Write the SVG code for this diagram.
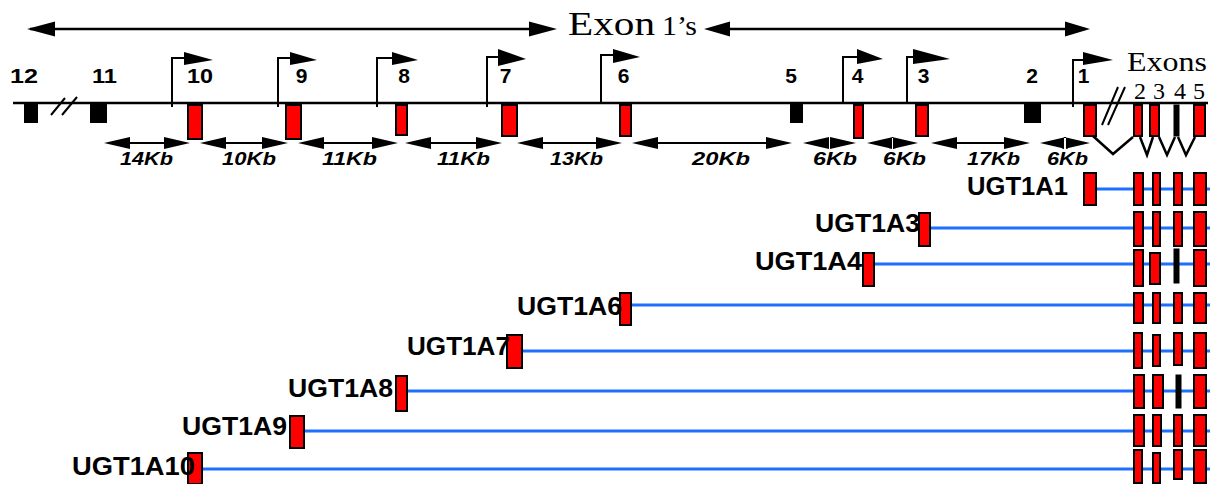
<svg xmlns="http://www.w3.org/2000/svg" width="1215" height="484" viewBox="0 0 1215 484">
  <style>
    .bg { fill: #ffffff; }
    .ln { stroke: #000; stroke-width: 2.5; fill: none; }
    .thin { stroke: #000; stroke-width: 2; fill: none; }
    .head { fill: #000; stroke: none; }
    .ex { fill: #ff0000; stroke: #000; stroke-width: 2; }
    .exk { fill: #000; stroke: #000; stroke-width: 1; }
    .blk { fill: #000; }
    .intr { stroke: #1f6fff; stroke-width: 3; fill: none; }
    .num { font-family: "Liberation Sans", Arial, sans-serif; font-weight: bold; font-size: 21px; fill: #000; }
    .kb { font-family: "Liberation Sans", Arial, sans-serif; font-weight: bold; font-style: italic; font-size: 18px; fill: #000; }
    .tx { font-family: "Liberation Sans", Arial, sans-serif; font-weight: bold; font-size: 25px; fill: #000; }
    .ser { font-family: "Liberation Serif", "Times New Roman", serif; fill: #000; }
  </style>

  <rect class="bg" x="0" y="0" width="1215" height="484"/>

  <!-- span of the first exons -->
  <g id="exon1-span">
    <line class="ln" x1="30" y1="29" x2="550" y2="29"/>
    <path class="head" d="M27,29 L55,21.5 L55,36.5 Z M557,29 L529,21.5 L529,36.5 Z"/>
    <line class="ln" x1="710" y1="29" x2="1085" y2="29"/>
    <path class="head" d="M704,29 L730,21.5 L730,36.5 Z M1090,29 L1065,21.5 L1065,36.5 Z"/>
    <text class="ser" x="568" y="35" font-size="33" textLength="87" lengthAdjust="spacingAndGlyphs">Exon</text>
    <text class="ser" x="662" y="35" font-size="28" textLength="35" lengthAdjust="spacingAndGlyphs">1’s</text>
  </g>

  <!-- genomic locus -->
  <g id="locus">
    <line class="ln" x1="13" y1="103" x2="1208" y2="103"/>
    <!-- break marks -->
    <path class="thin" stroke-width="3" d="M51,115 L65,98 M62,115 L77,97"/>
    <path class="thin" stroke-width="2.5" d="M1102,125 L1118,87 M1108,125 L1125,87"/>
  </g>

  <!-- first exons with their promoters -->
  <g id="exon1-12"><rect class="blk" x="24" y="103" width="14" height="20"/><text class="num" x="24" y="83" text-anchor="middle" textLength="28" lengthAdjust="spacingAndGlyphs">12</text></g>
  <g id="exon1-11"><rect class="blk" x="90" y="103" width="17" height="20"/><text class="num" x="104.5" y="83" text-anchor="middle" textLength="25" lengthAdjust="spacingAndGlyphs">11</text></g>

  <g id="exon1-10">
    <path class="thin" d="M172,107 V58 H185"/>
    <path class="head" d="M184,52 L213,60 L184,65 Z"/>
    <rect class="ex" x="188" y="105" width="14" height="34"/>
    <text class="num" x="200" y="83" text-anchor="middle" textLength="26" lengthAdjust="spacingAndGlyphs">10</text>
  </g>
  <g id="exon1-9">
    <path class="thin" d="M278,107 V58 H291"/>
    <path class="head" d="M290,52 L317,60 L290,65 Z"/>
    <rect class="ex" x="286" y="105" width="15" height="34"/>
    <text class="num" x="301.5" y="83" text-anchor="middle">9</text>
  </g>
  <g id="exon1-8">
    <path class="thin" d="M377,107 V58 H393"/>
    <path class="head" d="M392,52 L418,60 L392,65 Z"/>
    <rect class="ex" x="396" y="105" width="11" height="30"/>
    <text class="num" x="404" y="83" text-anchor="middle">8</text>
  </g>
  <g id="exon1-7">
    <path class="thin" d="M487,107 V57 H499"/>
    <path class="head" d="M498,49 L526,59 L498,66 Z"/>
    <rect class="ex" x="502" y="105" width="15" height="31"/>
    <text class="num" x="505.5" y="83" text-anchor="middle">7</text>
  </g>
  <g id="exon1-6">
    <path class="thin" d="M601,104 V55 H614"/>
    <path class="head" d="M613,49 L640,57 L613,63 Z"/>
    <rect class="ex" x="620" y="105" width="11" height="31"/>
    <text class="num" x="623.5" y="83" text-anchor="middle">6</text>
  </g>
  <g id="exon1-5"><rect class="blk" x="790" y="103" width="13" height="20"/><text class="num" x="791" y="83" text-anchor="middle">5</text></g>
  <g id="exon1-4">
    <path class="thin" d="M843,104 V57 H858"/>
    <path class="head" d="M857,49 L883,59 L857,64 Z"/>
    <rect class="ex" x="854" y="105" width="9" height="33"/>
    <text class="num" x="857.5" y="83" text-anchor="middle">4</text>
  </g>
  <g id="exon1-3">
    <path class="thin" d="M907,104 V57 H914"/>
    <path class="head" d="M913,49 L950,59 L913,64 Z"/>
    <rect class="ex" x="916" y="105" width="12" height="31"/>
    <text class="num" x="923.5" y="83" text-anchor="middle">3</text>
  </g>
  <g id="exon1-2"><rect class="blk" x="1024" y="103" width="17" height="20"/><text class="num" x="1032" y="83" text-anchor="middle">2</text></g>
  <g id="exon1-1">
    <path class="thin" d="M1073,107 V60 H1084"/>
    <path class="head" d="M1083,52 L1113,60 L1083,65 Z"/>
    <rect class="ex" x="1084" y="105" width="12" height="31"/>
    <text class="num" x="1083.5" y="83" text-anchor="middle">1</text>
  </g>

  <!-- shared exons 2-5 -->
  <g id="common-exons">
    <text class="ser" x="1127" y="71" font-size="28" textLength="80" lengthAdjust="spacingAndGlyphs">Exons</text>
    <text class="ser" x="1140" y="98.5" font-size="24" text-anchor="middle">2</text>
    <text class="ser" x="1159" y="98.5" font-size="24" text-anchor="middle">3</text>
    <text class="ser" x="1180" y="98.5" font-size="24" text-anchor="middle">4</text>
    <text class="ser" x="1199" y="98.5" font-size="24" text-anchor="middle">5</text>
    <rect class="ex" x="1134" y="105" width="8" height="31"/>
    <rect class="ex" x="1150" y="105" width="9" height="31"/>
    <rect class="exk" x="1174" y="105" width="5" height="31"/>
    <rect class="ex" x="1194" y="105" width="11" height="31"/>
  </g>

  <!-- connectors: splicing, distances -->
  <g id="connectors">
    <path class="ln" stroke-width="3" d="M1093,136 L1113,154 L1133,137 M1140,137 L1147,155 L1153,137 M1159,137 L1167,155 L1175,137 M1178,137 L1186,155 L1195,137"/>

    <g id="distances">
      <path class="thin" d="M115,143 H180 M210,143 H278 M308,143 H388 M415,143 H492 M527,143 H612 M642,143 H782 M941,143 H1020"/>
      <path class="head" d="
        M104,143 L130,137 L130,149 Z M190,143 L164,137 L164,149 Z
        M200,143 L226,137 L226,149 Z M288,143 L262,137 L262,149 Z
        M298,143 L324,137 L324,149 Z M398,143 L372,137 L372,149 Z
        M405,143 L431,137 L431,149 Z M502,143 L476,137 L476,149 Z
        M517,143 L543,137 L543,149 Z M622,143 L596,137 L596,149 Z
        M632,143 L658,137 L658,149 Z M792,143 L766,137 L766,149 Z
        M803,143 L829,137 L829,149 Z M856,143 L830,137 L830,149 Z
        M867,143 L893,137 L893,149 Z M918,143 L892,137 L892,149 Z
        M931,143 L957,137 L957,149 Z M1030,143 L1004,137 L1004,149 Z
        M1040,143 L1066,137 L1066,149 Z M1090,143 L1064,137 L1064,149 Z"/>
      <text class="kb" x="120" y="165" textLength="53" lengthAdjust="spacingAndGlyphs">14Kb</text>
      <text class="kb" x="222" y="165" textLength="54" lengthAdjust="spacingAndGlyphs">10Kb</text>
      <text class="kb" x="322" y="165" textLength="55" lengthAdjust="spacingAndGlyphs">11Kb</text>
      <text class="kb" x="437" y="165" textLength="53" lengthAdjust="spacingAndGlyphs">11Kb</text>
      <text class="kb" x="550" y="165" textLength="53" lengthAdjust="spacingAndGlyphs">13Kb</text>
      <text class="kb" x="692" y="165" textLength="58" lengthAdjust="spacingAndGlyphs">20Kb</text>
      <text class="kb" x="813" y="165" textLength="44" lengthAdjust="spacingAndGlyphs">6Kb</text>
      <text class="kb" x="883" y="165" textLength="43" lengthAdjust="spacingAndGlyphs">6Kb</text>
      <text class="kb" x="967" y="165" textLength="53" lengthAdjust="spacingAndGlyphs">17Kb</text>
      <text class="kb" x="1047" y="165" textLength="41" lengthAdjust="spacingAndGlyphs">6Kb</text>
    </g>

    <!-- spliced introns of each transcript -->
    <g id="introns">
      <line class="intr" x1="1096" y1="189" x2="1210" y2="189"/>
      <line class="intr" x1="930" y1="228" x2="1210" y2="228"/>
      <line class="intr" x1="874" y1="264" x2="1210" y2="264"/>
      <line class="intr" x1="632" y1="305" x2="1210" y2="305"/>
      <line class="intr" x1="523" y1="351" x2="1210" y2="351"/>
      <line class="intr" x1="407" y1="391" x2="1210" y2="391"/>
      <line class="intr" x1="304" y1="431" x2="1210" y2="431"/>
      <line class="intr" x1="202" y1="469" x2="1210" y2="469"/>
    </g>
  </g>

  <!-- transcripts -->
  <g id="UGT1A1">
    <rect class="ex" x="1084" y="173" width="12" height="32"/>
    <rect class="ex" x="1134" y="173" width="9" height="32"/>
    <rect class="ex" x="1153" y="173" width="7" height="32"/>
    <rect class="ex" x="1174" y="173" width="8" height="32"/>
    <rect class="ex" x="1194" y="173" width="12" height="32"/>
    <text class="tx" x="967" y="195" textLength="101" lengthAdjust="spacingAndGlyphs">UGT1A1</text>
  </g>
  <g id="UGT1A3">
    <rect class="ex" x="919" y="213" width="11" height="33"/>
    <rect class="ex" x="1134" y="212" width="9" height="34"/>
    <rect class="ex" x="1153" y="212" width="7" height="34"/>
    <rect class="ex" x="1174" y="212" width="8" height="34"/>
    <rect class="ex" x="1194" y="212" width="12" height="34"/>
    <text class="tx" x="815" y="232" textLength="105" lengthAdjust="spacingAndGlyphs">UGT1A3</text>
  </g>
  <g id="UGT1A4">
    <rect class="ex" x="863" y="253" width="11" height="33"/>
    <rect class="ex" x="1134" y="250" width="9" height="36"/>
    <rect class="ex" x="1150" y="253" width="10" height="31"/>
    <rect class="exk" x="1174" y="249" width="5" height="34"/>
    <rect class="ex" x="1194" y="250" width="12" height="36"/>
    <text class="tx" x="755" y="270" textLength="107" lengthAdjust="spacingAndGlyphs">UGT1A4</text>
  </g>
  <g id="UGT1A6">
    <rect class="ex" x="620" y="293" width="11" height="32"/>
    <rect class="ex" x="1134" y="293" width="9" height="30"/>
    <rect class="ex" x="1153" y="293" width="7" height="30"/>
    <rect class="ex" x="1174" y="293" width="8" height="30"/>
    <rect class="ex" x="1194" y="293" width="12" height="30"/>
    <text class="tx" x="517" y="315" textLength="105" lengthAdjust="spacingAndGlyphs">UGT1A6</text>
  </g>
  <g id="UGT1A7">
    <rect class="ex" x="507" y="335" width="15" height="33"/>
    <rect class="ex" x="1134" y="333" width="8" height="35"/>
    <rect class="ex" x="1153" y="335" width="7" height="31"/>
    <rect class="ex" x="1174" y="333" width="8" height="32"/>
    <rect class="ex" x="1194" y="333" width="12" height="35"/>
    <text class="tx" x="407" y="355" textLength="103" lengthAdjust="spacingAndGlyphs">UGT1A7</text>
  </g>
  <g id="UGT1A8">
    <rect class="ex" x="396" y="376" width="11" height="35"/>
    <rect class="ex" x="1134" y="375" width="10" height="33"/>
    <rect class="ex" x="1153" y="375" width="10" height="33"/>
    <rect class="exk" x="1176" y="375" width="5" height="33"/>
    <rect class="ex" x="1194" y="375" width="12" height="33"/>
    <text class="tx" x="288" y="397" textLength="105" lengthAdjust="spacingAndGlyphs">UGT1A8</text>
  </g>
  <g id="UGT1A9">
    <rect class="ex" x="290" y="416" width="14" height="32"/>
    <rect class="ex" x="1134" y="415" width="10" height="31"/>
    <rect class="ex" x="1153" y="415" width="8" height="31"/>
    <rect class="ex" x="1174" y="415" width="8" height="31"/>
    <rect class="ex" x="1194" y="415" width="12" height="31"/>
    <text class="tx" x="182" y="435" textLength="105" lengthAdjust="spacingAndGlyphs">UGT1A9</text>
  </g>
  <g id="UGT1A10">
    <rect class="ex" x="188" y="453" width="14" height="31"/>
    <rect class="ex" x="1134" y="450" width="8" height="33"/>
    <rect class="ex" x="1153" y="453" width="7" height="30"/>
    <rect class="ex" x="1174" y="450" width="8" height="29"/>
    <rect class="ex" x="1194" y="450" width="12" height="33"/>
    <text class="tx" x="72" y="475" textLength="123" lengthAdjust="spacingAndGlyphs">UGT1A10</text>
  </g>
</svg>
